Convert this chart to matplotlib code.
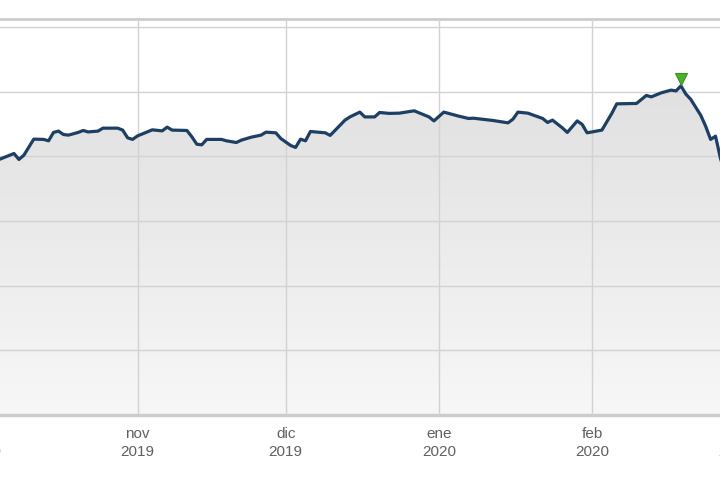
import numpy as np
import matplotlib
matplotlib.use("Agg")
import matplotlib.pyplot as plt
import matplotlib.dates as mdates
import matplotlib.transforms as mtransforms
from matplotlib.colors import LinearSegmentedColormap

# closing prices (vertices of the line)
dates = [
    "2019-10-02", "2019-10-04", "2019-10-07", "2019-10-08", "2019-10-09",
    "2019-10-11", "2019-10-13", "2019-10-14", "2019-10-15", "2019-10-16",
    "2019-10-17", "2019-10-18", "2019-10-20", "2019-10-21", "2019-10-22",
    "2019-10-24", "2019-10-25", "2019-10-28", "2019-10-29", "2019-10-30",
    "2019-10-31", "2019-11-01", "2019-11-04", "2019-11-06", "2019-11-07",
    "2019-11-08", "2019-11-11", "2019-11-12", "2019-11-13", "2019-11-14",
    "2019-11-15", "2019-11-18", "2019-11-19", "2019-11-21", "2019-11-22",
    "2019-11-24", "2019-11-26", "2019-11-27", "2019-11-29", "2019-11-30",
    "2019-12-02", "2019-12-03", "2019-12-04", "2019-12-05", "2019-12-06",
    "2019-12-09", "2019-12-10", "2019-12-13", "2019-12-14", "2019-12-16",
    "2019-12-17", "2019-12-19", "2019-12-20", "2019-12-22", "2019-12-24",
    "2019-12-27", "2019-12-30", "2019-12-31", "2020-01-02", "2020-01-05",
    "2020-01-07", "2020-01-08", "2020-01-12", "2020-01-15", "2020-01-16",
    "2020-01-17", "2020-01-19", "2020-01-22", "2020-01-23", "2020-01-24",
    "2020-01-26", "2020-01-27", "2020-01-29", "2020-01-30", "2020-01-31",
    "2020-02-03", "2020-02-05", "2020-02-06", "2020-02-10", "2020-02-12",
    "2020-02-13", "2020-02-15", "2020-02-17", "2020-02-18", "2020-02-19",
    "2020-02-20", "2020-02-21", "2020-02-23", "2020-02-24", "2020-02-25",
    "2020-02-26", "2020-02-27", "2020-02-29",
]
prices = [
    49.47, 49.76, 50.22, 49.76, 50.09,
    51.33, 51.31, 51.20, 51.85, 51.95,
    51.69, 51.64, 51.85, 52.00, 51.89,
    51.95, 52.18, 52.18, 52.03, 51.43,
    51.31, 51.58, 52.05, 51.97, 52.26,
    52.03, 52.00, 51.51, 50.94, 50.89,
    51.31, 51.31, 51.20, 51.07, 51.25,
    51.48, 51.64, 51.87, 51.82, 51.38,
    50.84, 50.69, 51.33, 51.20, 51.92,
    51.82, 51.62, 52.80, 53.05, 53.42,
    53.05, 53.05, 53.39, 53.32, 53.34,
    53.52, 53.05, 52.74, 53.42, 53.11,
    52.93, 52.95, 52.77, 52.59, 52.88,
    53.42, 53.34, 52.93, 52.62, 52.80,
    52.20, 51.85, 52.74, 52.47, 51.82,
    52.03, 53.32, 54.06, 54.09, 54.71,
    54.60, 54.91, 55.12, 55.06, 55.45,
    54.81, 54.40, 53.18, 52.33, 51.31,
    51.56, 49.84, 47.39,
]
month_names = ["ene", "feb", "mar", "abr", "may", "jun",
               "jul", "ago", "sep", "oct", "nov", "dic"]

x = mdates.datestr2num(dates)
y = np.array(prices)

fig = plt.figure(figsize=(7.2, 4.78), dpi=100)
# the axes run past the left and right edges of the picture
ax = fig.add_axes([-40 / 720, 63 / 478, 800 / 720, 396 / 478])

# gradient fill under the line
ylo, yhi = 30, 60.62
poly = ax.fill_between(x, y, ylo, facecolor="none", edgecolor="none")
cmap = LinearSegmentedColormap.from_list("fill", ["#f7f7f7", "#dcdcdc"])
grad = np.linspace(0, 1, 256).reshape(-1, 1)
im = ax.imshow(grad, cmap=cmap, origin="lower", aspect="auto",
               extent=[x.min(), x.max(), ylo, yhi], zorder=1)
im.set_clip_path(poly.get_paths()[0], transform=ax.transData)

ax.plot(x, y, color="#1c3f63", lw=2.3, zorder=4, solid_joinstyle="round")

# peak marker
i = int(np.argmax(y))
off = mtransforms.offset_copy(ax.transData, fig=fig, x=0, y=4.7, units="points")
ax.plot(x[i], y[i], marker="v", ms=9, color="#4cb02c", mec="#3a9020",
        mew=0.8, transform=off, zorder=5)

nov1 = mdates.datestr2num("2019-11-01")
ax.set_xlim(nov1 - 35.93, nov1 + 126.0)
ax.set_ylim(ylo, yhi)

ax.xaxis.set_major_locator(mdates.MonthLocator())
ax.xaxis.set_major_formatter(plt.FuncFormatter(
    lambda v, pos: "%s\n%d" % (month_names[mdates.num2date(v).month - 1],
                               mdates.num2date(v).year)))
ax.set_yticks(np.arange(30, 61, 5))
ax.set_yticklabels([])
ax.tick_params(length=0)
ax.tick_params(axis="x", pad=9, labelsize=11, labelcolor="#606060")
fig.canvas.draw()
for lab in ax.get_xticklabels():
    lab.set_family("Liberation Sans")
    lab.set_linespacing(1.3)

ax.grid(True, color="#d2d2d2", lw=1, zorder=3)
ax.set_axisbelow(False)
for s in ["left", "right"]:
    ax.spines[s].set_visible(False)
ax.spines["top"].set_color("#cccccc")
ax.spines["top"].set_linewidth(2)
ax.spines["bottom"].set_color("#cccccc")
ax.spines["bottom"].set_linewidth(2.5)

fig.savefig("out.png", dpi=100)
